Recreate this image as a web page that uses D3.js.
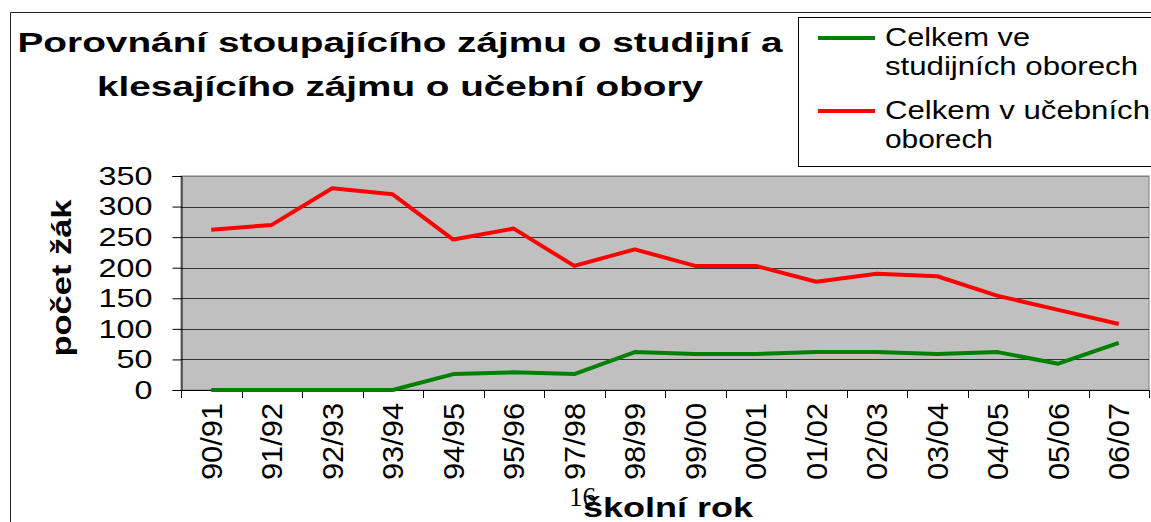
<!DOCTYPE html>
<html>
<head>
<meta charset="utf-8">
<script src="https://cdn.jsdelivr.net/npm/d3@7"></script>
<style>
  body { margin: 0; background: #fff; }
  svg { display: block; font-family: "Liberation Sans", Arial, sans-serif; }
</style>
</head>
<body>
<svg id="chart" width="1151" height="522"></svg>
<script>
// school years on the x axis
const categories = ["90/91", "91/92", "92/93", "93/94", "94/95", "95/96", "97/98", "98/99",
                    "99/00", "00/01", "01/02", "02/03", "03/04", "04/05", "05/06", "06/07"];
// Celkem ve studijních oborech
const studijni = [0, 0, 0, 0, 26, 29, 26, 62, 59, 59, 62, 62, 59, 62, 43, 77];
// Celkem v učebních oborech
const ucebni = [262, 270, 330, 320, 246, 264, 203, 230, 203, 203, 177, 190, 186, 154, 131, 108];
const yTicks = [0, 50, 100, 150, 200, 250, 300, 350];
const titleLines = ["Porovnání stoupajícího zájmu o studijní a", "klesajícího zájmu o učební obory"];
const legendItems = [
  { lines: ["Celkem ve", "studijních oborech"], color: "#008000" },
  { lines: ["Celkem v učebních", "oborech"], color: "#ff0000" }
];

const svg = d3.select("#chart");

// stretch a text to a given width (the source font is much wider than ours)
function fit(sel, len) {
  sel.attr("textLength", len).attr("lengthAdjust", "spacingAndGlyphs");
}

const plot = { left: 181, right: 1149, top: 176, bottom: 390 };

const x = d3.scaleBand().domain(categories).range([plot.left, plot.right]);
const y = d3.scaleLinear().domain([0, 350]).range([plot.bottom, plot.top]);
const cx = d => x(d) + x.bandwidth() / 2;

// outer frame
svg.append("path")
  .attr("d", "M10.5,530V12.5H1160")
  .attr("fill", "none").attr("stroke", "#222").attr("stroke-width", 1);

// title
svg.selectAll(".title").data(titleLines).enter().append("text")
  .attr("class", "title")
  .attr("x", 400)
  .attr("y", (d, i) => 52 + i * 44)
  .attr("text-anchor", "middle")
  .attr("font-weight", "bold")
  .attr("font-size", 28)
  .text(d => d)
  .each(function(d, i) { fit(d3.select(this), i === 0 ? 765 : 606); });

// plot background
svg.append("rect")
  .attr("x", plot.left).attr("y", plot.top)
  .attr("width", plot.right - plot.left).attr("height", plot.bottom - plot.top)
  .attr("fill", "#c0c0c0").attr("stroke", "#808080").attr("stroke-width", 1);

// gridlines
svg.selectAll(".grid").data(yTicks.slice(1)).enter().append("line")
  .attr("x1", plot.left).attr("x2", plot.right)
  .attr("y1", d => Math.round(y(d)) + 0.5).attr("y2", d => Math.round(y(d)) + 0.5)
  .attr("stroke", d => d === 350 ? "#808080" : "#333").attr("stroke-width", 1);

// y axis
const yAxis = svg.append("g")
  .attr("transform", `translate(${plot.left + 0.5},0)`)
  .call(d3.axisLeft(y).tickValues(yTicks).tickSize(9).tickPadding(20));
yAxis.select(".domain").attr("stroke", "#000");
yAxis.selectAll(".tick line").attr("stroke", "#000");
yAxis.selectAll(".tick text")
  .attr("font-size", 26).attr("fill", "#000")
  .attr("font-family", "Liberation Sans, Arial, sans-serif")
  .each(function(d) { fit(d3.select(this), String(d).length * 18); });

// x axis: boundary ticks, rotated labels at category centers
const bounds = categories.map(c => x(c)).concat([plot.right]);
svg.append("line")
  .attr("x1", plot.left).attr("x2", plot.right)
  .attr("y1", plot.bottom + 0.5).attr("y2", plot.bottom + 0.5)
  .attr("stroke", "#000");
svg.selectAll(".xtick").data(bounds).enter().append("line")
  .attr("x1", d => Math.round(d) + 0.5).attr("x2", d => Math.round(d) + 0.5)
  .attr("y1", plot.bottom).attr("y2", plot.bottom + 8)
  .attr("stroke", "#000");
svg.selectAll(".xlabel").data(categories).enter().append("text")
  .attr("transform", d => `translate(${cx(d)},403) rotate(-90)`)
  .attr("text-anchor", "end")
  .attr("dy", "0.35em")
  .attr("font-size", 30)
  .text(d => d)
  .each(function() { fit(d3.select(this), 77); });

// lines
const line = d3.line().x((d, i) => cx(categories[i])).y(d => y(d));
[[studijni, "#008000"], [ucebni, "#ff0000"]].forEach(([vals, col]) => {
  svg.append("path")
    .datum(vals)
    .attr("d", line)
    .attr("fill", "none")
    .attr("stroke", col)
    .attr("stroke-width", 4)
    .attr("stroke-linejoin", "round");
});

// axis titles
svg.append("text")
  .attr("transform", "translate(71,278) rotate(-90)")
  .attr("text-anchor", "middle")
  .attr("font-weight", "bold")
  .attr("font-size", 27)
  .text("počet žák")
  .call(fit, 157);

svg.append("text")
  .attr("x", 569).attr("y", 506)
  .attr("font-family", "Liberation Serif, Times New Roman, serif")
  .attr("font-size", 27)
  .text("16");

svg.append("text")
  .attr("x", 668).attr("y", 517)
  .attr("text-anchor", "middle")
  .attr("font-weight", "bold")
  .attr("font-size", 27)
  .text("školní rok")
  .call(fit, 170);

// legend
svg.append("rect")
  .attr("x", 798.5).attr("y", 17.5).attr("width", 400).attr("height", 149)
  .attr("fill", "#fff").attr("stroke", "#000");
const legendLens = [[145, 253], [265, 108]];
const legendBase = [46, 119];
legendItems.forEach((item, i) => {
  svg.append("line")
    .attr("x1", 818).attr("x2", 875)
    .attr("y1", legendBase[i] - 8).attr("y2", legendBase[i] - 8)
    .attr("stroke", item.color).attr("stroke-width", 4);
  item.lines.forEach((t, j) => {
    svg.append("text")
      .attr("x", 885).attr("y", legendBase[i] + j * 29)
      .attr("font-size", 26)
      .text(t)
      .call(fit, legendLens[i][j]);
  });
});
</script>
</body>
</html>
